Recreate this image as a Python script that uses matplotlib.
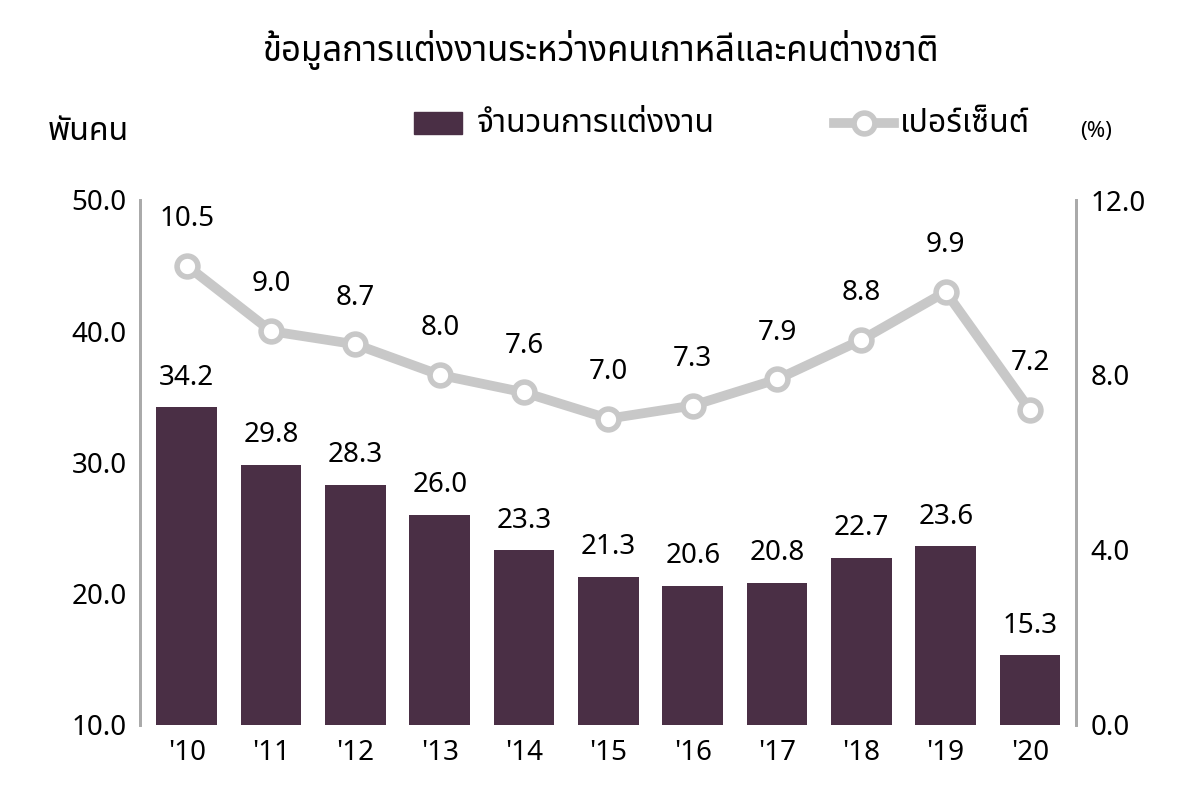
import matplotlib
matplotlib.use("Agg")
import matplotlib.pyplot as plt
from matplotlib import font_manager

years = ["'10","'11","'12","'13","'14","'15","'16","'17","'18","'19","'20"]
marriages = [34.2,29.8,28.3,26.0,23.3,21.3,20.6,20.8,22.7,23.6,15.3]
percent = [10.5,9.0,8.7,8.0,7.6,7.0,7.3,7.9,8.8,9.9,7.2]

names = {f.name for f in font_manager.fontManager.ttflist}
fam = [n for n in ['Noto Sans Thai','Noto Sans Thai Looped','Loma','Garuda','Tlwg Typo','Noto Sans','DejaVu Sans'] if n in names]
plt.rcParams['font.family'] = fam
plt.rcParams['font.weight'] = 'bold'

fig = plt.figure(figsize=(12,8), dpi=100)
ax = fig.add_axes([0.117, 0.094, 0.78, 0.656])
x = list(range(len(years)))
ax.bar(x, [m-10 for m in marriages], bottom=10, width=0.72, color='#4a2f45')
ax.set_ylim(10,50)
ax.set_xlim(-0.55,10.55)
ax.set_yticks([10,20,30,40,50])
ax.set_yticklabels([f"{v:.1f}" for v in [10,20,30,40,50]])
ax.set_xticks(x); ax.set_xticklabels(years)
for i,m in enumerate(marriages):
    ax.text(i, m+1.2, f"{m:.1f}", ha='center', va='bottom', fontsize=20, fontweight='bold')
ax2 = ax.twinx()
ax2.set_ylim(0,12)
ax2.set_yticks([0,4,8,12]); ax2.set_yticklabels(["0.0","4.0","8.0","12.0"])
ax2.plot(x, percent, color='#c8c8c8', lw=7, marker='o', ms=15, mfc='white', mec='#c8c8c8', mew=4, zorder=3)
for i,p in enumerate(percent):
    ax2.text(i, p+0.75, f"{p:.1f}", ha='center', va='bottom', fontsize=20, fontweight='bold')
for a in (ax, ax2):
    for s in ['top','bottom']:
        a.spines[s].set_visible(False)
    a.spines['left'].set_color('#aaaaaa'); a.spines['right'].set_color('#aaaaaa')
    a.spines['left'].set_linewidth(2); a.spines['right'].set_linewidth(2)
    a.tick_params(labelsize=20, length=0, pad=10)
    for t in a.get_xticklabels()+a.get_yticklabels():
        t.set_fontweight('bold')
fig.text(0.5, 0.937, "ข้อมูลการแต่งงานระหว่างคนเกาหลีและคนต่างชาติ", ha='center', va='center', fontsize=25, fontweight='bold')
fig.text(0.04, 0.835, "พันคน", fontsize=23, fontweight='bold', va='center')
fig.patches.append(plt.Rectangle((0.345,0.833),0.04,0.027, transform=fig.transFigure, color='#4a2f45'))
fig.text(0.397, 0.846, "จำนวนการแต่งงาน", fontsize=23, fontweight='bold', va='center')
fig.lines.append(plt.Line2D([0.695,0.745],[0.846,0.846], transform=fig.transFigure, color='#c8c8c8', lw=7))
fig.lines.append(plt.Line2D([0.72],[0.846], transform=fig.transFigure, marker='o', ms=15, mfc='white', mec='#c8c8c8', mew=4))
fig.text(0.75, 0.846, "เปอร์เซ็นต์", fontsize=23, fontweight='bold', va='center')
fig.text(0.9, 0.835, "(%)", fontsize=16, fontweight='bold', va='center')
fig.savefig("out.png")
